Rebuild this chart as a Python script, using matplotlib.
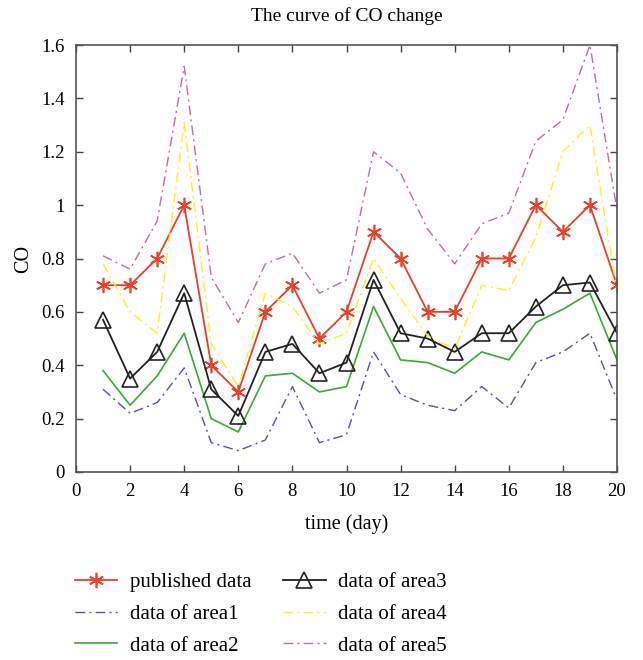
import matplotlib
matplotlib.use("Agg")
import matplotlib.pyplot as plt
from matplotlib.ticker import FuncFormatter

plt.rcParams['font.family'] = ['Liberation Serif', 'DejaVu Serif']

days = list(range(1, 21))
published = [0.7, 0.7, 0.8, 1.0, 0.4, 0.3, 0.6, 0.7, 0.5, 0.6,
             0.9, 0.8, 0.6, 0.6, 0.8, 0.8, 1.0, 0.9, 1.0, 0.7]
area1 = [0.31, 0.22, 0.26, 0.39, 0.11, 0.08, 0.12, 0.32, 0.11, 0.14,
         0.45, 0.29, 0.25, 0.23, 0.32, 0.24, 0.41, 0.45, 0.52, 0.27]
area2 = [0.38, 0.25, 0.36, 0.52, 0.20, 0.15, 0.36, 0.37, 0.30, 0.32,
         0.62, 0.42, 0.41, 0.37, 0.45, 0.42, 0.56, 0.61, 0.67, 0.42]
area3 = [0.57, 0.35, 0.45, 0.67, 0.31, 0.21, 0.45, 0.48, 0.37, 0.41,
         0.72, 0.52, 0.50, 0.45, 0.52, 0.52, 0.62, 0.70, 0.71, 0.52]
area4 = [0.78, 0.60, 0.52, 1.31, 0.48, 0.32, 0.67, 0.62, 0.48, 0.52,
         0.80, 0.65, 0.51, 0.46, 0.70, 0.68, 0.88, 1.20, 1.30, 0.68]
area5 = [0.81, 0.76, 0.94, 1.52, 0.73, 0.56, 0.78, 0.82, 0.67, 0.72,
         1.20, 1.12, 0.91, 0.78, 0.93, 0.97, 1.24, 1.32, 1.60, 0.98]
xticks = list(range(0, 21, 2))
yticks = [0, 0.2, 0.4, 0.6, 0.8, 1.0, 1.2, 1.4, 1.6]

fig = plt.figure(figsize=(6.43, 6.6), dpi=100)
ax = fig.add_axes([76/643, 1-472/660, 541/643, 427/660])

h0, = ax.plot(days, published, color='#e8402a', lw=1.3, marker=(6, 2, 0),
              ms=11, mew=1.2, label='published data')
h1, = ax.plot(days, area1, color='#5b4fae', lw=1.0, ls=(0, (7, 3, 1.5, 3)), label='data of area1')
h2, = ax.plot(days, area2, color='#3aaa35', lw=1.2, label='data of area2')
h3, = ax.plot(days, area3, color='#222222', lw=1.3, marker='^', ms=11,
              mfc='none', mec='#222222', mew=1.2, label='data of area3')
h4, = ax.plot(days, area4, color='#ffee22', lw=1.0, ls=(0, (7, 3, 1.5, 3)), label='data of area4')
h5, = ax.plot(days, area5, color='#cc66aa', lw=1.0, ls=(0, (7, 3, 1.5, 3)), label='data of area5')
ax.set_zorder(1)

ax.set_xlim(0, 20)
ax.set_ylim(0, 1.6)
ax.set_xticks(xticks)
ax.set_yticks(yticks)
ax.yaxis.set_major_formatter(FuncFormatter(lambda v, p: ('%g' % round(v, 2))))
ax.tick_params(direction='in', top=True, right=True, length=5, width=1,
               labelsize=13.5, color='#444444', pad=8)
for s in ax.spines.values():
    s.set_color('#555555')
    s.set_linewidth(1.2)
ax.set_xlabel('time (day)', fontsize=14.5, labelpad=10)
ax.set_ylabel('CO', fontsize=14.5, labelpad=6)
ax.set_title('The curve of CO change', fontsize=14, pad=17)

fig.legend(handles=[h0, h1, h2, h3, h4, h5], loc='upper left',
           bbox_to_anchor=(56/643, 1-554/660), ncol=2, frameon=False,
           fontsize=15, handlelength=2.05, columnspacing=1.5,
           labelspacing=0.58, handletextpad=0.6)

fig.savefig('out.png', dpi=100)
